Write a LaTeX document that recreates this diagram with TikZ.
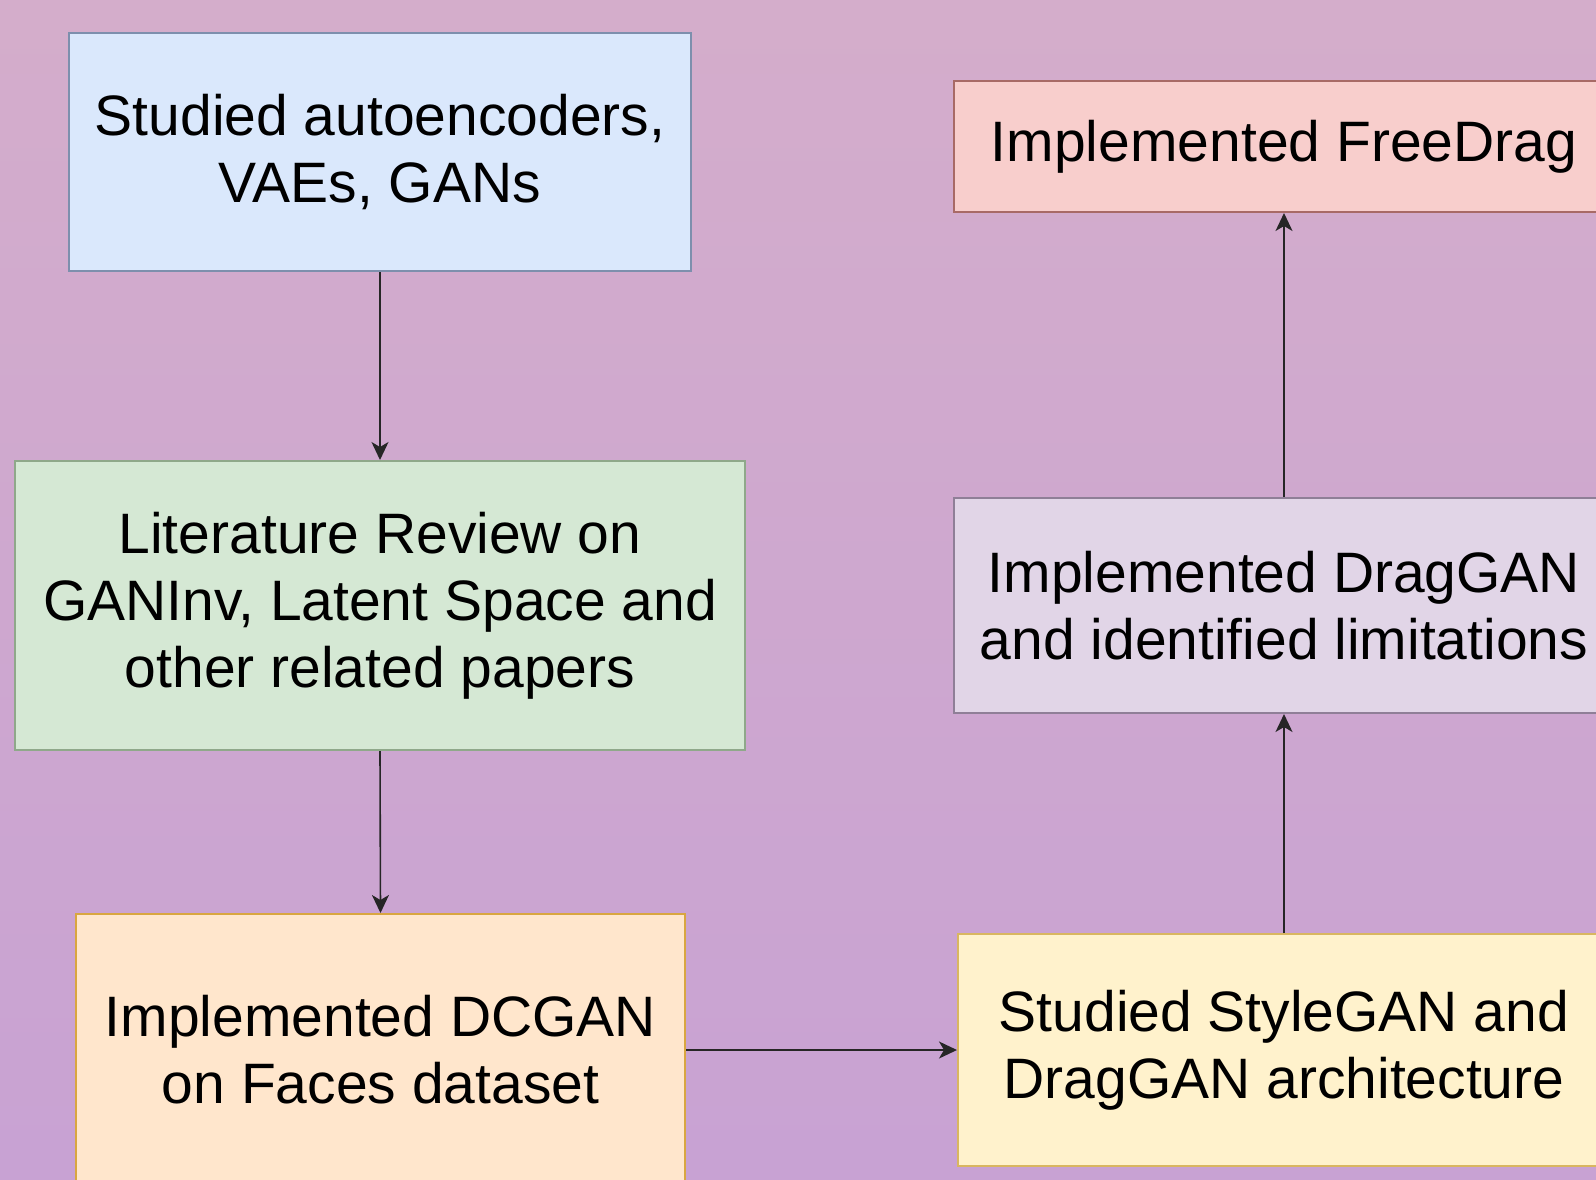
\documentclass[tikz,border=0pt]{standalone}
\usepackage{fontspec}
\setmainfont{Liberation Sans}
\usetikzlibrary{arrows.meta}
\definecolor{bgtop}{HTML}{D4ADCB}
\definecolor{bgbot}{HTML}{C8A2D3}
\definecolor{bluefill}{HTML}{DAE8FC}\definecolor{blueline}{HTML}{7D8FAD}
\definecolor{greenfill}{HTML}{D5E8D4}\definecolor{greenline}{HTML}{8FA88A}
\definecolor{orangefill}{HTML}{FFE6CC}\definecolor{orangeline}{HTML}{D9A640}
\definecolor{redfill}{HTML}{F8CECC}\definecolor{redline}{HTML}{A86A66}
\definecolor{purplefill}{HTML}{E1D5E7}\definecolor{purpleline}{HTML}{8F7F97}
\definecolor{yellowfill}{HTML}{FFF2CC}\definecolor{yellowline}{HTML}{D9B660}
\begin{document}
\begin{tikzpicture}[x=1pt,y=-1pt,
  stepbox/.style={rectangle, line width=2pt, inner sep=0pt, align=center,
    font=\fontsize{57}{67}\selectfont, text=black},
  conn/.style={line width=1.6pt, draw=black!85, -{Stealth[length=18pt,width=17pt,inset=5pt]}}]
\useasboundingbox (0,0) rectangle (1596,1179);
\shade[top color=bgtop, bottom color=bgbot] (0pt,0pt) rectangle (1596pt,-1179pt);
\node[stepbox, draw=blueline, fill=bluefill, minimum width=622pt, minimum height=238pt] (b1) at (380,152)
  {Studied autoencoders,\\VAEs, GANs};
\node[stepbox, draw=greenline, fill=greenfill, minimum width=730pt, minimum height=289pt] (b2) at (380,605.5)
  {Literature Review on\\GANInv, Latent Space and\\other related papers};
\node[stepbox, draw=orangeline, fill=orangefill, minimum width=609pt, minimum height=272pt] (b3) at (380.5,1050)
  {Implemented DCGAN\\on Faces dataset};
\node[stepbox, draw=yellowline, fill=yellowfill, minimum width=652pt, minimum height=232pt] (b6) at (1284,1050)
  {Studied StyleGAN and\\DragGAN architecture};
\node[stepbox, draw=purpleline, fill=purplefill, minimum width=660pt, minimum height=215pt] (b5) at (1284,605.5)
  {Implemented DragGAN\\and identified limitations};
\node[stepbox, draw=redline, fill=redfill, minimum width=660pt, minimum height=131pt] (b4) at (1284,146.5)
  {Implemented FreeDrag};
\draw[conn] (b1.south) -- (b2.north);
\draw[conn] (b2.south) -- (b3.north);
\draw[conn] (b3.east) -- (b6.west);
\draw[conn] (b6.north) -- (b5.south);
\draw[conn] (b5.north) -- (b4.south);
\end{tikzpicture}
\end{document}
